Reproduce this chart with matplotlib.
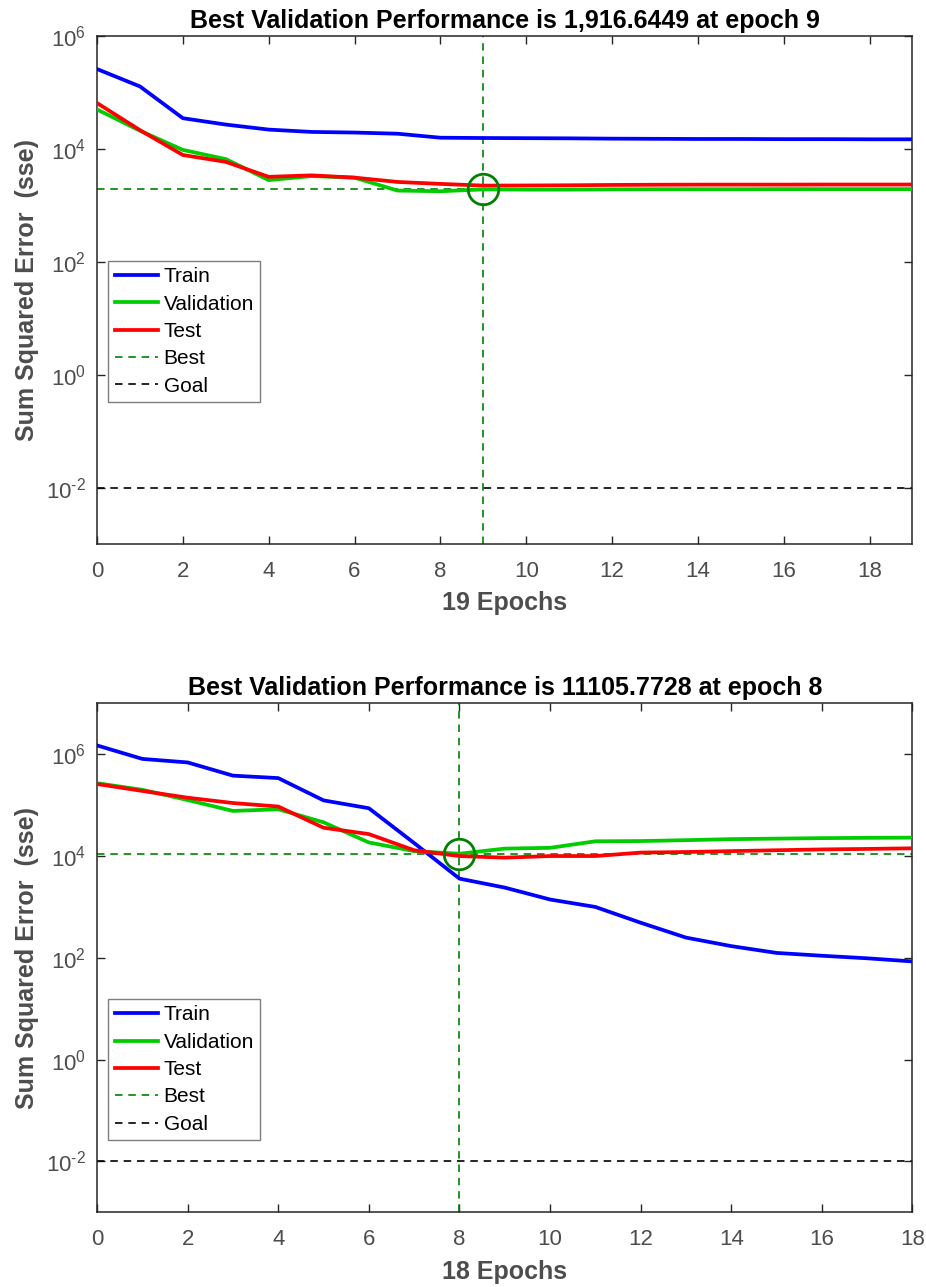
import numpy as np
import matplotlib.pyplot as plt
from matplotlib.lines import Line2D
from matplotlib.ticker import FixedLocator, FuncFormatter, NullLocator

plt.rcParams['font.family'] = ['Liberation Sans', 'DejaVu Sans']
plt.rcParams['mathtext.fontset'] = 'custom'
plt.rcParams['mathtext.rm'] = 'Liberation Sans'

# run 1 : 19 epochs
epochs1 = np.arange(0, 20)
train1 = [2.6e5, 1.28e5, 3.5e4, 2.7e4, 2.2e4, 2.0e4, 1.95e4, 1.86e4, 1.58e4, 1.56e4,
          1.55e4, 1.54e4, 1.52e4, 1.51e4, 1.50e4, 1.50e4, 1.49e4, 1.49e4, 1.48e4, 1.48e4]
val1 = [5.0e4, 2.1e4, 9.6e3, 6.6e3, 2.8e3, 3.3e3, 3.1e3, 1.83e3, 1.78e3, 1916.6449,
        1.90e3, 1.90e3, 1.92e3, 1.93e3, 1.93e3, 1.93e3, 1.94e3, 1.94e3, 1.94e3, 1.94e3]
test1 = [6.5e4, 2.15e4, 7.8e3, 5.9e3, 3.2e3, 3.4e3, 3.1e3, 2.6e3, 2.4e3, 2.24e3,
         2.25e3, 2.27e3, 2.30e3, 2.32e3, 2.33e3, 2.33e3, 2.33e3, 2.34e3, 2.34e3, 2.34e3]
best_ep1, best_val1 = 9, 1916.6449

# run 2 : 18 epochs
epochs2 = np.arange(0, 19)
train2 = [1.49e6, 8.1e5, 6.9e5, 3.8e5, 3.4e5, 1.24e5, 8.7e4, 1.8e4, 3.6e3, 2.4e3,
          1.4e3, 1.0e3, 4.9e2, 2.5e2, 1.7e2, 1.25e2, 1.1e2, 98, 85]
val2 = [2.7e5, 2.0e5, 1.26e5, 7.7e4, 8.3e4, 4.6e4, 1.85e4, 1.25e4, 11105.7728, 1.4e4,
        1.45e4, 1.95e4, 1.97e4, 2.05e4, 2.15e4, 2.2e4, 2.25e4, 2.28e4, 2.3e4]
test2 = [2.6e5, 1.9e5, 1.4e5, 1.1e5, 9.4e4, 3.6e4, 2.7e4, 1.3e4, 1.0e4, 9.3e3,
         1.0e4, 1.0e4, 1.17e4, 1.2e4, 1.25e4, 1.3e4, 1.35e4, 1.38e4, 1.42e4]
best_ep2, best_val2 = 8, 11105.7728

goal = 0.01
gray = '#4d4d4d'


def pow10(v, pos):
    e = int(round(np.log10(v)))
    if e < 0:
        return r'$\mathregular{10^{\text{-}%d}}$' % (-e)
    return r'$\mathregular{10^{%d}}$' % e


def perf_plot(ax, ep, tr, va, te, best_ep, best_val, title, ymax, legend_y):
    lw = 2.7
    ax.plot(ep, tr, color='#0000ff', lw=lw, label='Train', zorder=3)
    ax.plot(ep, va, color='#00cc00', lw=lw, label='Validation', zorder=3)
    ax.plot(ep, te, color='#ff0000', lw=lw, label='Test', zorder=3)
    dash = (0, (4.5, 3.5))
    ax.axhline(best_val, color='#008000', lw=1.2, ls=dash, zorder=2)
    ax.axvline(best_ep, color='#008000', lw=1.2, ls=dash, zorder=2)
    ax.axhline(goal, color='black', lw=1.2, ls=dash, zorder=2)
    ax.plot([best_ep], [best_val], 'o', ms=22, mfc='none', mec='#008000', mew=2.0, zorder=4)

    ax.set_yscale('log')
    ax.set_xlim(ep[0], ep[-1])
    ax.set_ylim(1e-3, ymax)
    ax.yaxis.set_major_locator(FixedLocator([1e-2, 1e0, 1e2, 1e4, 1e6]))
    ax.yaxis.set_major_formatter(FuncFormatter(pow10))
    ax.yaxis.set_minor_locator(NullLocator())
    ax.set_xticks(np.arange(0, ep[-1] + 1, 2))
    ax.tick_params(direction='in', length=6, width=1, top=True, right=True,
                   labelsize=16, labelcolor=gray, color='#262626')
    ax.tick_params(axis='x', pad=12)
    ax.tick_params(axis='y', pad=8)
    for s in ax.spines.values():
        s.set_linewidth(1.1)
        s.set_color('#262626')

    ax.set_title(title, fontsize=18, fontweight='bold', pad=6)
    ax.set_xlabel('%d Epochs' % ep[-1], fontsize=18, fontweight='bold', color=gray, labelpad=7)
    ax.set_ylabel('Sum Squared Error  (sse)', fontsize=18, fontweight='bold', color=gray, labelpad=5)

    handles = [
        Line2D([], [], color='#0000ff', lw=lw),
        Line2D([], [], color='#00cc00', lw=lw),
        Line2D([], [], color='#ff0000', lw=lw),
        Line2D([], [], color='#008000', lw=1.2, ls=dash),
        Line2D([], [], color='black', lw=1.2, ls=dash),
    ]
    leg = ax.legend(handles, ['Train', 'Validation', 'Test', 'Best', 'Goal'],
                    loc='lower left', bbox_to_anchor=(0.014, legend_y), fontsize=15,
                    frameon=True, fancybox=False, framealpha=1, edgecolor='#7f7f7f',
                    handlelength=2.1, handletextpad=0.25, labelspacing=0.4,
                    borderpad=0.3, borderaxespad=0)
    leg.get_frame().set_linewidth(1.0)


fig = plt.figure(figsize=(9.26, 12.87), dpi=100)
ax1 = fig.add_axes([0.1048, 0.5773, 0.8806, 0.3947])
ax2 = fig.add_axes([0.1048, 0.0580, 0.8806, 0.3955])

perf_plot(ax1, epochs1, train1, val1, test1, best_ep1, best_val1,
          'Best Validation Performance is 1,916.6449 at epoch 9', 1e6, 0.2795)
perf_plot(ax2, epochs2, train2, val2, test2, best_ep2, best_val2,
          'Best Validation Performance is 11105.7728 at epoch 8', 1e7, 0.142)

fig.savefig('out.png', dpi=100)
